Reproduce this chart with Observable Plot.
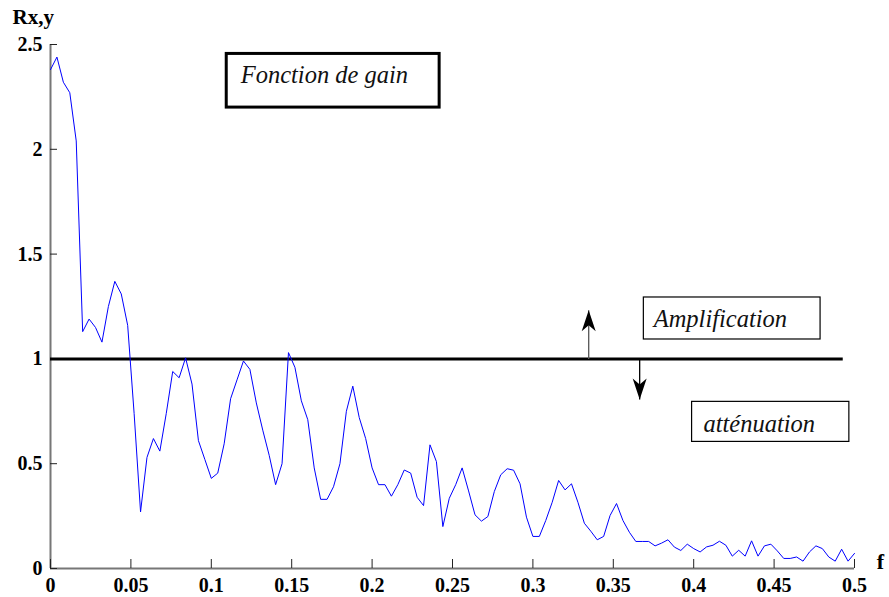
<!DOCTYPE html>
<html>
<head>
<meta charset="utf-8">
<script src="https://cdn.jsdelivr.net/npm/d3@7"></script>
<script src="https://cdn.jsdelivr.net/npm/@observablehq/plot@0.6"></script>
<style>
  html, body { margin: 0; padding: 0; background: #fff; }
  #chart svg { display: block; }
</style>
</head>
<body>
<div id="chart"></div>
<script>
// ---- data ----
const freqStep = 0.004; // frequency grid spacing (k/250)
const gain = [
  2.38, 2.44, 2.32, 2.27, 2.04, 1.13, 1.19, 1.15, 1.08, 1.25,
  1.37, 1.31, 1.16, 0.74, 0.27, 0.53, 0.62, 0.56, 0.74, 0.94,
  0.91, 1.005, 0.88, 0.61, 0.52, 0.43, 0.455, 0.595, 0.81, 0.90,
  0.99, 0.95, 0.79, 0.66, 0.54, 0.40, 0.50, 1.03, 0.96, 0.80,
  0.71, 0.48, 0.33, 0.33, 0.39, 0.50, 0.75, 0.87, 0.72, 0.62,
  0.48, 0.40, 0.40, 0.345, 0.40, 0.47, 0.455, 0.34, 0.30, 0.59,
  0.51, 0.20, 0.335, 0.40, 0.48, 0.37, 0.256, 0.226, 0.248, 0.367,
  0.447, 0.476, 0.469, 0.404, 0.245, 0.153, 0.153, 0.229, 0.316, 0.42,
  0.375, 0.404, 0.316, 0.216, 0.178, 0.137, 0.153, 0.253, 0.31, 0.229,
  0.173, 0.129, 0.129, 0.129, 0.108, 0.121, 0.137, 0.102, 0.086, 0.116,
  0.095, 0.079, 0.103, 0.111, 0.13, 0.111, 0.059, 0.087, 0.059, 0.132,
  0.059, 0.108, 0.116, 0.084, 0.048, 0.048, 0.055, 0.035, 0.079, 0.108,
  0.095, 0.055, 0.035, 0.092, 0.035, 0.072
];
const xTicks = [0, 0.05, 0.1, 0.15, 0.2, 0.25, 0.3, 0.35, 0.4, 0.45, 0.5];
const yTicks = [0, 0.5, 1, 1.5, 2, 2.5];
const refLevel = 1;
const refLineEnd = 0.493;

// annotation boxes (data coordinates)
const boxes = [
  {label: "Fonction de gain", x1: 0.1096, x2: 0.242, y1: 2.199, y2: 2.455, tx: 0.1183, ty: 2.315, heavy: true},
  {label: "Amplification", x1: 0.369, x2: 0.4789, y1: 1.0926, y2: 1.293, tx: 0.3751, ty: 1.153, heavy: false},
  {label: "atténuation", x1: 0.399, x2: 0.4968, y1: 0.604, y2: 0.795, tx: 0.4061, ty: 0.652, heavy: false}
];
// arrows: from the reference level to the tip
const arrows = [
  {x: 0.3347, from: 1, to: 1.232, dir: "up"},
  {x: 0.3664, from: 1, to: 0.806, dir: "down"}
];

const series = gain.map((v, i) => ({f: i * freqStep, r: v}));

// ---- layout ----
const W = 889, H = 597;
const mL = 50, mR = 35, mT = 44, mB = 29;
const font = "'Liberation Serif', 'Times New Roman', serif";
const fmt = d => String(d);

// stealth arrowhead symbol, tip at the origin pointing up
const arrowHead = {
  draw(ctx) {
    ctx.moveTo(0, 0);
    ctx.lineTo(7, 21);
    ctx.lineTo(0, 15);
    ctx.lineTo(-7, 21);
    ctx.closePath();
  }
};

const chart = Plot.plot({
  width: W,
  height: H,
  marginLeft: mL,
  marginRight: mR,
  marginTop: mT,
  marginBottom: mB,
  style: {background: "#fff", fontFamily: font},
  x: {domain: [0, 0.5], axis: null},
  y: {domain: [0, 2.5], axis: null},
  marks: [
    // axes lines
    Plot.ruleX([0], {stroke: "#777", strokeWidth: 2}),
    Plot.ruleY([0], {stroke: "#777", strokeWidth: 2}),
    // inward ticks
    Plot.tickY(yTicks, {y: d => d, stroke: "#222", strokeWidth: 1, insetRight: (W - mL - mR) - 7}),
    Plot.tickX(xTicks, {x: d => d, stroke: "#222", strokeWidth: 1, insetTop: (H - mT - mB) - 9}),
    // tick labels
    Plot.axisY({ticks: yTicks, tickFormat: fmt, tickSize: 0, tickPadding: 8, fontSize: 20, fontWeight: "bold", fontFamily: font, fill: "#000", label: null}),
    Plot.axisX({ticks: xTicks, tickFormat: fmt, tickSize: 0, tickPadding: 9, fontSize: 20, fontWeight: "bold", fontFamily: font, fill: "#000", label: null}),
    // axis titles
    Plot.text(["Rx,y"], {x: 0, y: 2.5, text: d => d, dx: -38, dy: -21, textAnchor: "start", lineAnchor: "bottom", fontSize: 21, fontWeight: "bold", fontFamily: font, fill: "#000"}),
    Plot.text(["f"], {x: 0.5, y: 0, text: d => d, dx: 26, dy: 0, textAnchor: "middle", lineAnchor: "bottom", fontSize: 22, fontWeight: "bold", fontFamily: font, fill: "#000"}),
    // reference level
    Plot.ruleY([refLevel], {x1: 0, x2: refLineEnd, stroke: "#000", strokeWidth: 3}),
    // gain curve
    Plot.line(series, {x: "f", y: "r", stroke: "#0000ff", strokeWidth: 1}),
    // arrows
    Plot.link(arrows, {x1: "x", x2: "x", y1: "from", y2: "to", stroke: d => d.dir === "up" ? "#555" : "#000", strokeWidth: 1.3}),
    Plot.dot(arrows, {x: "x", y: "to", symbol: arrowHead, r: 5, fill: "#000", stroke: "none", rotate: d => d.dir === "up" ? 0 : 180}),
    // boxes
    Plot.rect(boxes, {x1: "x1", x2: "x2", y1: "y1", y2: "y2", fill: "#fff", stroke: "#000", strokeWidth: d => d.heavy ? 3 : 1.2}),
    Plot.text(boxes, {x: "tx", y: "ty", text: "label", textAnchor: "start", lineAnchor: "bottom", fontSize: 24.5, fontStyle: "italic", fontFamily: font, fill: "#111"})
  ]
});

document.getElementById("chart").appendChild(chart);
</script>
</body>
</html>
